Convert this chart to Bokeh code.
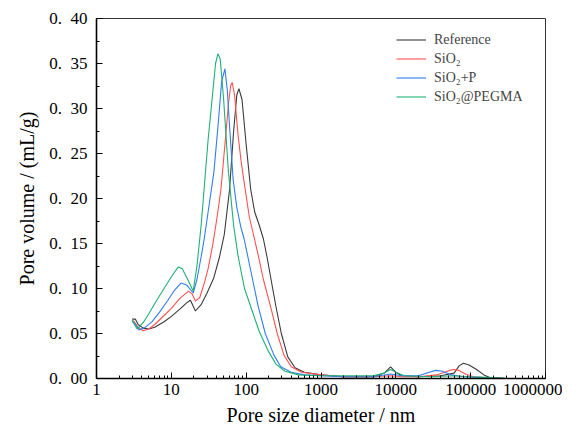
from bokeh.plotting import figure
from bokeh.models import FixedTicker, CustomJSTickFormatter, NumeralTickFormatter, Legend, LegendItem, Range1d
from bokeh.embed import file_html
from bokeh.resources import INLINE

# ---- data ----
ref_x = [3.0, 3.3, 3.6, 4.2, 5.0, 6, 8, 10, 13, 16, 18, 21, 25, 30, 37, 44, 51, 60, 68, 75, 80, 88, 100, 115, 130, 150, 170, 190, 215, 250, 295, 360, 450, 600, 1000, 2000, 5000, 7000, 8500, 10000, 12000, 20000, 40000, 60000, 70000, 80000, 95000, 120000, 150000, 180000, 300000]
ref_y = [0.066, 0.066, 0.060, 0.056, 0.055, 0.057, 0.063, 0.069, 0.077, 0.084, 0.087, 0.075, 0.082, 0.095, 0.112, 0.135, 0.160, 0.210, 0.275, 0.315, 0.322, 0.310, 0.260, 0.210, 0.185, 0.170, 0.155, 0.135, 0.110, 0.080, 0.050, 0.024, 0.012, 0.007, 0.004, 0.002, 0.002, 0.006, 0.013, 0.007, 0.003, 0.002, 0.003, 0.006, 0.014, 0.017, 0.015, 0.010, 0.004, 0.001, 0.0]

sio2_x = [3.0, 3.2, 3.6, 4.2, 5, 6, 8, 10, 13, 17, 19, 21, 24, 28, 31, 36, 41, 46, 52, 58, 62, 65, 70, 78, 86, 94, 110, 125, 144, 170, 215, 260, 320, 400, 550, 1000, 2000, 5000, 8500, 12000, 20000, 35000, 45000, 52000, 60000, 70000, 85000, 110000, 150000, 300000]
sio2_y = [0.065, 0.063, 0.057, 0.053, 0.055, 0.060, 0.070, 0.078, 0.089, 0.097, 0.094, 0.086, 0.090, 0.108, 0.122, 0.150, 0.180, 0.210, 0.260, 0.305, 0.325, 0.329, 0.315, 0.270, 0.240, 0.218, 0.180, 0.160, 0.138, 0.110, 0.078, 0.050, 0.026, 0.013, 0.007, 0.004, 0.002, 0.002, 0.003, 0.002, 0.002, 0.004, 0.007, 0.009, 0.010, 0.009, 0.005, 0.002, 0.001, 0.0]

sio2p_x = [3.0, 3.2, 3.7, 4.5, 5.5, 7, 9, 11, 13.5, 16, 19.6, 22, 25, 27.5, 31, 37, 42, 47, 52, 56, 60, 67, 75, 85, 94, 115, 144, 180, 235, 290, 400, 600, 1000, 2000, 5000, 8500, 12000, 20000, 28000, 34000, 42000, 55000, 80000, 150000, 300000]
sio2p_y = [0.063, 0.062, 0.054, 0.057, 0.063, 0.074, 0.087, 0.098, 0.106, 0.104, 0.095, 0.110, 0.135, 0.155, 0.185, 0.229, 0.280, 0.330, 0.344, 0.320, 0.280, 0.221, 0.190, 0.168, 0.155, 0.120, 0.081, 0.050, 0.026, 0.013, 0.007, 0.004, 0.003, 0.002, 0.002, 0.005, 0.003, 0.003, 0.007, 0.009, 0.008, 0.004, 0.002, 0.001, 0.0]

peg_x = [3.0, 3.2, 3.5, 4.2, 5, 6.5, 8, 10, 12.4, 14, 17, 19.6, 22, 25, 28, 31, 35, 39, 42, 45, 50, 58, 68, 78, 95, 117, 150, 196, 250, 330, 500, 1000, 2000, 5000, 7000, 8500, 10000, 13000, 30000, 60000, 100000, 200000, 300000]
peg_y = [0.065, 0.060, 0.055, 0.062, 0.072, 0.088, 0.100, 0.113, 0.124, 0.122, 0.108, 0.097, 0.125, 0.170, 0.220, 0.265, 0.310, 0.350, 0.361, 0.355, 0.310, 0.229, 0.170, 0.136, 0.100, 0.078, 0.052, 0.031, 0.016, 0.008, 0.004, 0.003, 0.003, 0.003, 0.006, 0.010, 0.007, 0.003, 0.002, 0.003, 0.002, 0.001, 0.0]

series_names = ["Reference", "SiO\u2082", "SiO\u2082+P", "SiO\u2082@PEGMA"]
series_colors = ["#3a3a3a", "#ff5050", "#2f7df0", "#1fb075"]

x_major = [1, 10, 100, 1000, 10000, 100000, 1000000]
y_major = [0.0, 0.05, 0.10, 0.15, 0.20, 0.25, 0.30, 0.35, 0.40]

FONT = "Liberation Serif"

p = figure(width=562, height=428, x_axis_type="log", output_backend="svg",
           toolbar_location=None, x_range=Range1d(1, 1000000), y_range=Range1d(0, 0.40),
           min_border_left=96, min_border_right=17, min_border_top=18, min_border_bottom=47)

p.xgrid.visible = False
p.ygrid.visible = False
p.outline_line_color = "#333333"
p.outline_line_width = 1
p.background_fill_color = "white"
p.border_fill_color = "white"

renderers = []
for xs, ys, c in [(ref_x, ref_y, series_colors[0]), (sio2_x, sio2_y, series_colors[1]),
                  (sio2p_x, sio2p_y, series_colors[2]), (peg_x, peg_y, series_colors[3])]:
    renderers.append(p.line(xs, ys, line_color=c, line_width=1.1))

minor_x = [m * d for d in [1, 10, 100, 1000, 10000, 100000] for m in range(2, 10)]
p.xaxis.ticker = FixedTicker(ticks=x_major, minor_ticks=minor_x)
p.xaxis.formatter = NumeralTickFormatter(format="0")
minor_y = [i * 0.025 for i in range(17)]
p.yaxis.ticker = FixedTicker(ticks=y_major, minor_ticks=minor_y)
p.yaxis.formatter = CustomJSTickFormatter(code="return tick.toFixed(2).replace('.', '.\u2002');")

for ax in [p.xaxis[0], p.yaxis[0]]:
    ax.axis_line_color = "black"
    ax.axis_line_width = 1.6
    ax.major_tick_in = 6
    ax.major_tick_out = 0
    ax.minor_tick_in = 3
    ax.minor_tick_out = 0
    ax.major_tick_line_color = "black"
    ax.minor_tick_line_color = "black"
    ax.major_label_text_font = FONT
    ax.major_label_text_font_size = "17px"
    ax.major_label_text_color = "black"
    ax.axis_label_text_font = FONT
    ax.axis_label_text_font_size = "20px"
    ax.axis_label_text_font_style = "normal"
    ax.axis_label_text_color = "black"

p.xaxis.axis_label = "Pore size diameter / nm"
p.yaxis.axis_label = "Pore volume / (mL/g)"
p.xaxis.major_label_standoff = 5
p.yaxis.major_label_standoff = 9
p.xaxis.axis_label_standoff = 6
p.yaxis.axis_label_standoff = 8

legend = Legend(items=[LegendItem(label=n, renderers=[r]) for n, r in zip(series_names, renderers)],
                location=(300, 273), border_line_color=None, background_fill_alpha=0,
                label_text_font=FONT, label_text_font_size="14px", glyph_width=30,
                label_height=17, glyph_height=17, spacing=2, padding=0, label_standoff=8, margin=0)
p.add_layout(legend)

open("out.html", "w").write(file_html(p, INLINE))
